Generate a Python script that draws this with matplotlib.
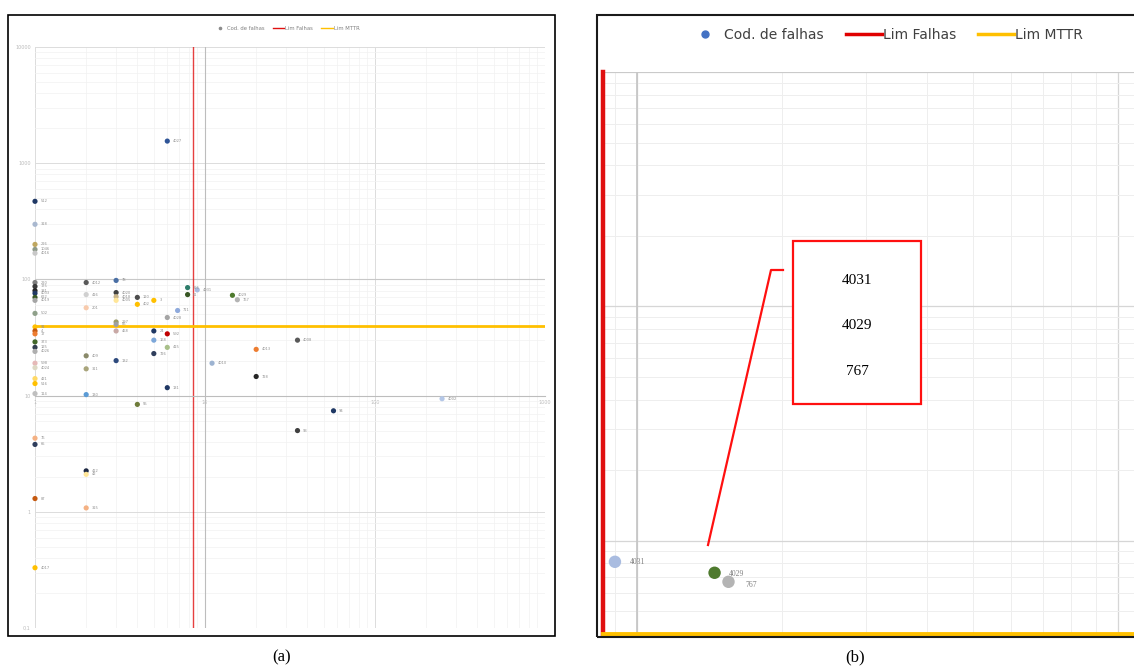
import matplotlib
matplotlib.use("Agg")
import matplotlib.pyplot as plt
from matplotlib.patches import Rectangle
from matplotlib.lines import Line2D
from matplotlib.ticker import LogLocator, FuncFormatter, NullFormatter

W, H = 1134, 672

# codes of failures (tiny labels in the chart, best guess)
codes = ["512", "318", "226", "1046", "4016", "220", "175", "331", "4033", "622",
         "4019", "502", "91", "4", "17", "373", "125", "4026", "598", "4024",
         "421", "516", "114", "76", "65", "87", "4017",
         "4012", "416", "201", "409", "311", "130", "412", "42", "315",
         "78", "4020", "4018", "4005", "297", "86", "468", "132",
         "120", "402", "55",
         "3", "24", "168", "726",
         "4027", "4028", "592", "415", "131",
         "711", "326", "61",
         "4031", "4029", "767",
         "4010", "4013", "728", "4008", "93", "94", "4002"]

# number of failures (x axis, log)
falhas = [1, 1, 1, 1, 1, 1, 1, 1, 1, 1,
          1, 1, 1, 1, 1, 1, 1, 1, 1, 1,
          1, 1, 1, 1, 1, 1, 1,
          2, 2, 2, 2, 2, 2, 2, 2, 2,
          3, 3, 3, 3, 3, 3, 3, 3,
          4, 4, 4,
          5, 5, 5, 5,
          6, 6, 6, 6, 6,
          6.9, 7.9, 7.9,
          9.0, 14.5, 15.5,
          11, 20, 20, 35, 35, 57, 248]

# MTTR (y axis, log)
mttr = [470, 298, 200, 181, 168, 94, 87, 80, 76, 70,
        66, 51, 39, 36, 34, 29, 26, 24, 19, 17.4,
        14, 12.7, 10.4, 4.3, 3.8, 1.3, 0.33,
        94, 74, 57, 22, 17, 10.2, 2.25, 2.1, 1.08,
        98, 77, 71, 66, 43, 41, 36, 20,
        70, 61, 8.4,
        66, 36, 30, 23,
        1550, 47, 34, 26, 11.7,
        54, 85, 74,
        81.3, 73.0, 66.8,
        19, 25, 14.6, 30, 5, 7.4, 9.4]

point_colors = ["#1F3864", "#A9B8CF", "#BFA760", "#8E9A8A", "#C8C8C8", "#7F7F7F", "#3A3A3A", "#262626", "#203864", "#375623",
                "#A5A5A5", "#8FA08A", "#FFC000", "#C55A11", "#ED7D31", "#43682B", "#333F50", "#AFAFAF", "#E6B9B8", "#DDD9C4",
                "#FFD966", "#FFC000", "#BFBFBF", "#F4B183", "#2F3E5C", "#C55A11", "#FFC000",
                "#595959", "#D0D0D0", "#F8CBAD", "#8A8A6A", "#A9A57C", "#5B9BD5", "#1F2A44", "#FFE699", "#F4B183",
                "#4A6FA5", "#404040", "#C9B58A", "#FFE699", "#9C9C6B", "#A0A0A0", "#C9A9A6", "#2E4A7D",
                "#4D4D4D", "#FFC000", "#6E7B3A",
                "#FFC000", "#1F3864", "#7DA7D9", "#2F3E5C",
                "#2F5597", "#A5A5A5", "#C00000", "#A9C08A", "#203864",
                "#8FAADC", "#2E7D6B", "#375623",
                "#A9BCE0", "#4E7A2E", "#B4B4B4",
                "#9DB3D1", "#ED7D31", "#262626", "#595959", "#404040", "#1F3864", "#B4C7E7"]

zoom_codes = ["4031", "4029", "767"]

lim_falhas = 8.5
lim_mttr = 40
axis_cross = 10
y_ref = 100

legend_labels = ["Cod. de falhas", "Lim Falhas", "Lim MTTR"]


def fmt_br(v, pos):
    s = ("%g" % v).replace(".", ",")
    return s


fig = plt.figure(figsize=(W / 100, H / 100), dpi=100)
fig.patch.set_facecolor("white")

red = "#E01010"
gold = "#FFC000"

# ---------- (a) full chart ----------
ax_a = fig.add_axes([35 / W, 1 - 628 / H, 510 / W, 581 / H])
ax_a.set_xscale("log")
ax_a.set_yscale("log")
ax_a.set_xlim(1, 1000)
ax_a.set_ylim(0.1, 10000)
ax_a.xaxis.set_major_locator(LogLocator(base=10, numticks=10))
ax_a.yaxis.set_major_locator(LogLocator(base=10, numticks=10))
ax_a.xaxis.set_minor_locator(LogLocator(base=10, subs=range(2, 10), numticks=20))
ax_a.yaxis.set_minor_locator(LogLocator(base=10, subs=range(2, 10), numticks=20))
ax_a.xaxis.set_major_formatter(FuncFormatter(fmt_br))
ax_a.yaxis.set_major_formatter(FuncFormatter(fmt_br))
ax_a.xaxis.set_minor_formatter(NullFormatter())
ax_a.yaxis.set_minor_formatter(NullFormatter())
ax_a.grid(which="major", color="#DCDCDC", lw=0.7)
ax_a.grid(which="minor", color="#F2F2F2", lw=0.5)
ax_a.set_axisbelow(True)
for s in ["top", "right", "left"]:
    ax_a.spines[s].set_visible(False)
ax_a.spines["bottom"].set_position(("data", axis_cross))
ax_a.spines["bottom"].set_color("#BDBDBD")
ax_a.spines["bottom"].set_linewidth(0.8)
ax_a.tick_params(which="both", length=0, labelsize=3.5, labelcolor="#BBBBBB", pad=3)
ax_a.axhline(y_ref, color="#C8C8C8", lw=0.8, zorder=1)
ax_a.axvline(axis_cross, color="#BDBDBD", lw=0.8, zorder=1)
ax_a.axvline(lim_falhas, color=red, lw=1.0, alpha=0.8, zorder=2)
ax_a.axhline(lim_mttr, color=gold, lw=2.0, zorder=2)

ax_a.scatter(falhas, mttr, s=14, c=point_colors, zorder=3, linewidths=0, clip_on=False)
for c, x, y in zip(codes, falhas, mttr):
    ax_a.annotate(c, (x, y), xytext=(4, 0), textcoords="offset points",
                  fontsize=2.6, color="#909090", va="center", ha="left")

handles_a = [
    Line2D([], [], ls="none", marker="o", ms=1.6, color="#8C8C8C"),
    Line2D([], [], color=red, lw=1.0),
    Line2D([], [], color=gold, lw=1.0),
]
fig.legend(handles_a, legend_labels, loc="center", bbox_to_anchor=(287 / W, 1 - 28 / H),
           ncol=3, frameon=False, fontsize=3.8, labelcolor="#808080",
           handlelength=2.2, handletextpad=0.2, columnspacing=1.5)

fig.patches.append(Rectangle((8 / W, 1 - 636 / H), 547 / W, 621 / H, transform=fig.transFigure,
                             fill=False, edgecolor="black", lw=1.2))

# ---------- (b) zoom on the critical quadrant ----------
ax_b = fig.add_axes([603 / W, 1 - 634 / H, 531 / W, 562 / H])
ax_b.set_xscale("log")
ax_b.set_yscale("log")
ax_b.set_xlim(lim_falhas, 108)
ax_b.set_ylim(lim_mttr, 10000)
ax_b.xaxis.set_minor_locator(LogLocator(base=10, subs=range(2, 10), numticks=20))
ax_b.yaxis.set_minor_locator(LogLocator(base=10, subs=range(2, 10), numticks=20))
ax_b.grid(which="major", color="#D6D6D6", lw=0.9)
ax_b.grid(which="minor", color="#EEEEEE", lw=0.7)
ax_b.set_axisbelow(True)
for s in ax_b.spines.values():
    s.set_visible(False)
ax_b.tick_params(which="both", length=0, labelleft=False, labelbottom=False)
ax_b.axvline(axis_cross, color="#C4C4C4", lw=1.2, zorder=1)
ax_b.axhline(10000, color="#C8C8C8", lw=1.2, zorder=1)

idx = [codes.index(c) for c in zoom_codes]
ax_b.scatter([falhas[i] for i in idx], [mttr[i] for i in idx], s=80,
             c=[point_colors[i] for i in idx], zorder=4, linewidths=0)
offsets = [(11, 0), (10, -1), (12, -2)]
for i, off in zip(idx, offsets):
    ax_b.annotate(codes[i], (falhas[i], mttr[i]), xytext=off, textcoords="offset points",
                  fontsize=5.5, color="#808080", va="center", ha="left", family="Liberation Serif")

ax_b.axvline(lim_falhas, color=red, lw=3.2, zorder=5, clip_on=False)
ax_b.axhline(lim_mttr, color=gold, lw=3.5, zorder=5, clip_on=False)

# callout box
bx0, bx1 = (793 - 603) / 531, (921 - 603) / 531
by0, by1 = (634 - 404) / 562, (634 - 241) / 562
ax_b.add_patch(Rectangle((bx0, by0), bx1 - bx0, by1 - by0, transform=ax_b.transAxes,
                         facecolor="white", edgecolor="#FF1010", lw=1.6, zorder=6))
for k, c in enumerate(zoom_codes):
    ax_b.text((bx0 + bx1) / 2, by1 - (by1 - by0) * (0.24 + 0.28 * k), c, transform=ax_b.transAxes,
              ha="center", va="center", fontsize=11, family="Liberation Serif", color="black", zorder=7)
ax_b.add_line(Line2D([(708 - 603) / 531, (771 - 603) / 531, (783 - 603) / 531],
                     [(634 - 545) / 562, (634 - 270) / 562, (634 - 270) / 562],
                     transform=ax_b.transAxes, color="#FF1010", lw=1.6, zorder=6))

handles_b = [
    Line2D([], [], ls="none", marker="o", ms=5, color="#4472C4"),
    Line2D([], [], color="#E00000", lw=2.5),
    Line2D([], [], color=gold, lw=2.5),
]
fig.legend(handles_b, legend_labels, loc="center", bbox_to_anchor=(885 / W, 1 - 35 / H),
           ncol=3, frameon=False, fontsize=10, labelcolor="#404040",
           handlelength=2.6, handletextpad=0.05, columnspacing=1.6)

fig.patches.append(Rectangle((597 / W, 1 - 637 / H), 600 / W, 622 / H, transform=fig.transFigure,
                             fill=False, edgecolor="#1A1A1A", lw=1.5))

fig.text(282 / W, 1 - 657 / H, "(a)", ha="center", va="center", fontsize=12, family="Liberation Serif")
fig.text(855 / W, 1 - 657 / H, "(b)", ha="center", va="center", fontsize=12, family="Liberation Serif")

fig.savefig("out.png", dpi=100, facecolor="white")
